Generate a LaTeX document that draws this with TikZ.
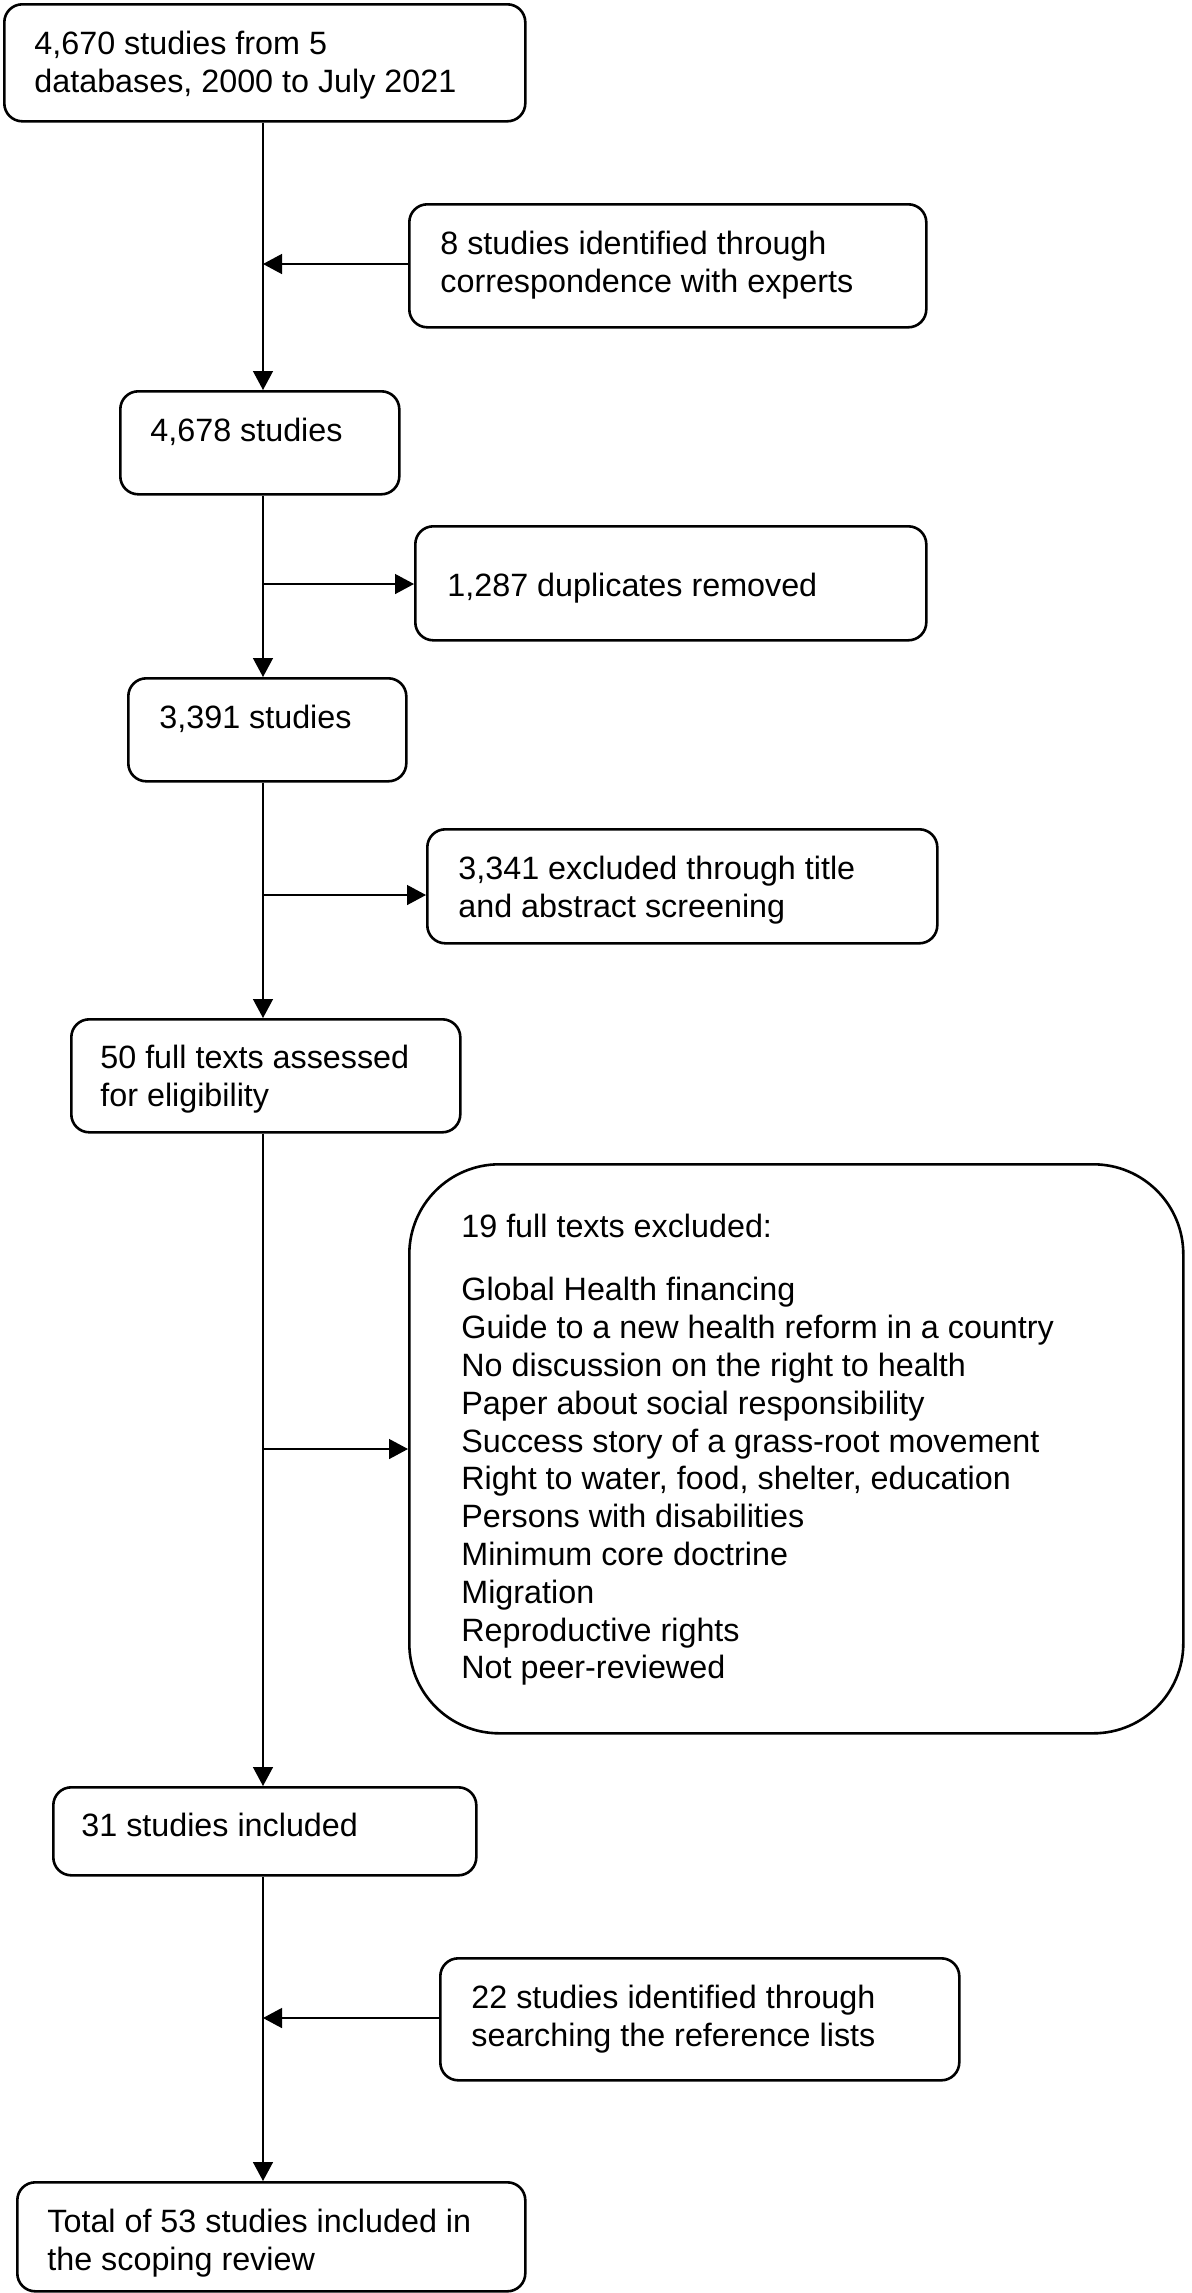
\documentclass[tikz,border=0pt]{standalone}
\usepackage{fontspec}
\setmainfont{Liberation Sans}
\usetikzlibrary{arrows.meta}
\begin{document}
\begin{tikzpicture}[x=0.5pt,y=-0.5pt,
  box/.style={draw, line width=1.3pt, rounded corners=9pt, anchor=north west, inner sep=0pt},
  bigbox/.style={box, rounded corners=45pt},
  txt/.style={anchor=north west, inner sep=0pt, align=left, font=\fontsize{16.15}{18.9}\selectfont},
  arr/.style={-{Triangle[length=9.5pt,width=10pt]}, line width=0.7pt}]
\useasboundingbox (0,0) rectangle (1191,2293);
\coordinate (trunk) at (263,0);
% boxes
\node[box, minimum width=260.5pt, minimum height=58.5pt] (b1) at (3,3) {};
\node[box, minimum width=258.5pt, minimum height=61.5pt] (b2) at (408,203) {};
\node[box, minimum width=139.5pt, minimum height=51.5pt] (b3) at (119,390) {};
\node[box, minimum width=255.5pt, minimum height=57pt] (b4) at (414,525) {};
\node[box, minimum width=139pt, minimum height=51.5pt] (b5) at (127,677) {};
\node[box, minimum width=255pt, minimum height=57pt] (b6) at (426,828) {};
\node[box, minimum width=194.5pt, minimum height=56.5pt] (b7) at (70,1018) {};
\node[bigbox, minimum width=387pt, minimum height=284.5pt] (b8) at (408,1163) {};
\node[box, minimum width=211.5pt, minimum height=44pt] (b9) at (52,1786) {};
\node[box, minimum width=259.5pt, minimum height=61pt] (b10) at (439,1957) {};
\node[box, minimum width=254pt, minimum height=54.5pt] (b11) at (16,2181) {};
% texts
\node[txt] (t1) at (34,31) {4,670 studies from 5\\databases, 2000 to July 2021};
\node[txt] (t2) at (440,231) {8 studies identified through\\correspondence with experts};
\node[txt] (t3) at (150,418) {4,678 studies};
\node[txt] (t4) at (447,573) {1,287 duplicates removed};
\node[txt] (t5) at (159,705) {3,391 studies};
\node[txt] (t6) at (458,856) {3,341 excluded through title\\and abstract screening};
\node[txt] (t7) at (100,1045) {50 full texts assessed\\for eligibility};
\node[txt] (t8) at (461,1214) {19 full texts excluded:\\[12.6pt]
Global Health financing\\
Guide to a new health reform in a country\\
No discussion on the right to health\\
Paper about social responsibility\\
Success story of a grass-root movement\\
Right to water, food, shelter, education\\
Persons with disabilities\\
Minimum core doctrine\\
Migration\\
Reproductive rights\\
Not peer-reviewed};
\node[txt] (t9) at (81,1813) {31 studies included};
\node[txt] (t10) at (471,1985) {22 studies identified through\\searching the reference lists};
\node[txt] (t11) at (47,2209) {Total of 53 studies included in\\the scoping review};
% junctions
\coordinate (j2) at (263,264);
\coordinate (j4) at (263,584);
\coordinate (j6) at (263,895);
\coordinate (j8) at (263,1449);
\coordinate (j10) at (263,2018);
% trunk arrows
\draw[arr] (b1.south -| trunk) -- (b3.north -| trunk);
\draw[arr] (b3.south -| trunk) -- (b5.north -| trunk);
\draw[arr] (b5.south -| trunk) -- (b7.north -| trunk);
\draw[arr] (b7.south -| trunk) -- (b9.north -| trunk);
\draw[arr] (b9.south -| trunk) -- (b11.north -| trunk);
% side arrows
\draw[arr] (j2 -| b2.west) -- (j2);
\draw[arr] (j4) -- (j4 -| b4.west);
\draw[arr] (j6) -- (j6 -| b6.west);
\draw[arr] (j8) -- (j8 -| b8.west);
\draw[arr] (j10 -| b10.west) -- (j10);
\end{tikzpicture}
\end{document}
